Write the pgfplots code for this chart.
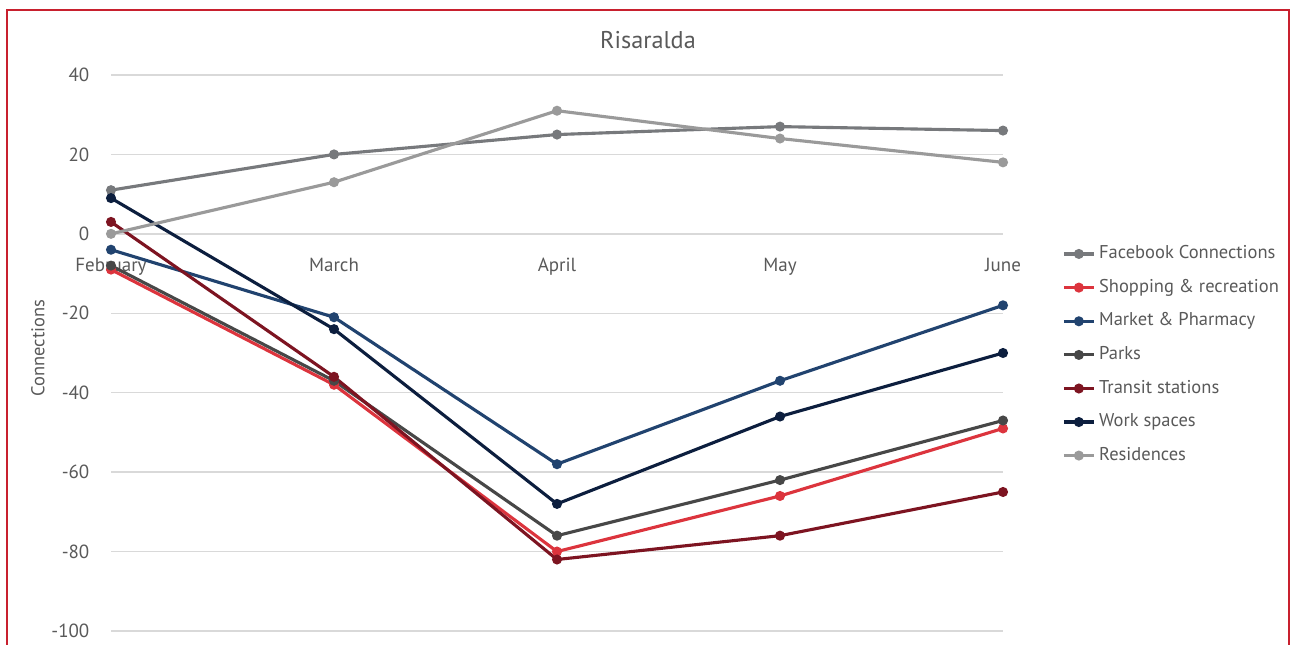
\documentclass[border=0pt]{standalone}
\usepackage{fontspec}
\setmainfont{PT Sans}
\usepackage{pgfplots}
\pgfplotsset{compat=1.18}

\definecolor{txtgray}{HTML}{595959}
\definecolor{gridgray}{HTML}{D9D9D9}
\definecolor{framered}{HTML}{C8202E}
\definecolor{cFacebook}{HTML}{77797C}
\definecolor{cShopping}{HTML}{DC343D}
\definecolor{cMarket}{HTML}{21436F}
\definecolor{cParks}{HTML}{474747}
\definecolor{cTransit}{HTML}{7D1421}
\definecolor{cWork}{HTML}{0C1E3E}
\definecolor{cResidences}{HTML}{9A9A9A}

\begin{document}
\begin{tikzpicture}[x=0.4pt,y=0.4pt]
\useasboundingbox (0,0) rectangle (1295,645);
\clip (0,0) rectangle (1295,645);
\draw[framered, line width=0.9pt] (7,635) rectangle (1289,-20);
\begin{axis}[
  at={(44.4pt,5.6pt)}, anchor=south west,
  scale only axis, width=356.8pt, height=222.4pt,
  xmin=0, xmax=4, ymin=-100, ymax=40,
  axis x line=middle, axis y line=left,
  axis line style={draw=none},
  hide obscured x ticks=false, hide obscured y ticks=false,
  xtick={0,1,2,3,4},
  xticklabels={February,March,April,May,June},
  ytick={-100,-80,...,40},
  major tick style={draw=none},
  ymajorgrids, major grid style={gridgray, line width=0.6pt},
  tick label style={font=\fontsize{7.6pt}{9pt}\selectfont, text=txtgray},
  /pgf/number format/assume math mode=true,
  xticklabel style={yshift=-4pt},
  yticklabel style={xshift=-3pt},
  every axis y label/.style={at={(axis description cs:-0.082,0.509)}, rotate=90, anchor=center, font=\fontsize{7.4pt}{9pt}\selectfont, text=txtgray},
  ylabel={Connections},
  clip=false,
  every axis plot/.append style={line width=1.25pt, mark=*, mark size=1.35pt},
  legend style={at={(1.066,0.701)}, anchor=north west, draw=none, fill=none,
    font=\fontsize{7.4pt}{9pt}\selectfont, text=txtgray,
    row sep=3.7pt, inner sep=0pt, nodes={inner sep=1.5pt}},
  legend cell align=left,
  legend image code/.code={\draw[mark repeat=2,mark phase=2] plot coordinates {(0cm,0cm)(0.21cm,0cm)(0.42cm,0cm)};},
]
\addplot[cFacebook, mark options={fill=cFacebook}] coordinates {(0,11) (1,20) (2,25) (3,27) (4,26)};
\addlegendentry{Facebook Connections}
\addplot[cShopping, mark options={fill=cShopping}] coordinates {(0,-9) (1,-38) (2,-80) (3,-66) (4,-49)};
\addlegendentry{Shopping \& recreation}
\addplot[cMarket, mark options={fill=cMarket}] coordinates {(0,-4) (1,-21) (2,-58) (3,-37) (4,-18)};
\addlegendentry{Market \& Pharmacy}
\addplot[cParks, mark options={fill=cParks}] coordinates {(0,-8) (1,-37) (2,-76) (3,-62) (4,-47)};
\addlegendentry{Parks}
\addplot[cTransit, mark options={fill=cTransit}] coordinates {(0,3) (1,-36) (2,-82) (3,-76) (4,-65)};
\addlegendentry{Transit stations}
\addplot[cWork, mark options={fill=cWork}] coordinates {(0,9) (1,-24) (2,-68) (3,-46) (4,-30)};
\addlegendentry{Work spaces}
\addplot[cResidences, mark options={fill=cResidences}] coordinates {(0,0) (1,13) (2,31) (3,24) (4,18)};
\addlegendentry{Residences}
\end{axis}
\node[text=txtgray, font=\fontsize{9.7pt}{11pt}\selectfont] at (648,605) {Risaralda};
\end{tikzpicture}
\end{document}
